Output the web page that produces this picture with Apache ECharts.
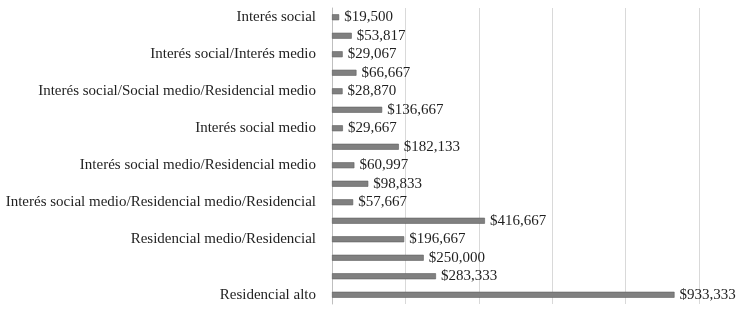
<!DOCTYPE html>
<html>
<head>
<meta charset="utf-8">
<script src="https://cdn.jsdelivr.net/npm/echarts@6/dist/echarts.min.js"></script>
<style>html,body{margin:0;padding:0;background:#fff}#c{width:750px;height:311px}</style>
</head>
<body>
<div id="c"></div>
<script>
const categories = [
  'Interés social', '',
  'Interés social/Interés medio', '',
  'Interés social/Social medio/Residencial medio', '',
  'Interés social medio', '',
  'Interés social medio/Residencial medio', '',
  'Interés social medio/Residencial medio/Residencial', '',
  'Residencial medio/Residencial', '', '',
  'Residencial alto'
];
const values = [19500, 53817, 29067, 66667, 28870, 136667, 29667, 182133, 60997, 98833, 57667, 416667, 196667, 250000, 283333, 933333];
const xTicks = [0, 200000, 400000, 600000, 800000, 1000000];

const chart = echarts.init(document.getElementById('c'), null, {renderer: 'canvas'});
chart.setOption({
  animation: false,
  grid: {left: 332, right: 51, top: 8, bottom: 7, containLabel: false},
  xAxis: {
    type: 'value', min: xTicks[0], max: xTicks[xTicks.length - 1], interval: xTicks[1] - xTicks[0],
    axisLabel: {show: false}, axisLine: {show: false}, axisTick: {show: false},
    splitLine: {show: true, lineStyle: {color: '#d9d9d9', width: 1}}
  },
  yAxis: {
    type: 'category', data: categories, inverse: true,
    axisLine: {show: true, lineStyle: {color: '#bfbfbf', width: 1}},
    axisTick: {show: false},
    axisLabel: {interval: 0, margin: 16, color: '#1f1f1f', fontFamily: 'Liberation Serif', fontSize: 15}
  },
  series: [{
    type: 'bar', data: values, barWidth: 6,
    itemStyle: {color: '#808080', borderColor: '#5e5e5e', borderWidth: 0.6},
    label: {
      show: true, position: 'right', distance: 5,
      color: '#1f1f1f', fontFamily: 'Liberation Serif', fontSize: 15,
      formatter: p => '$' + p.value.toLocaleString('en-US')
    }
  }]
});
</script>
</body>
</html>
